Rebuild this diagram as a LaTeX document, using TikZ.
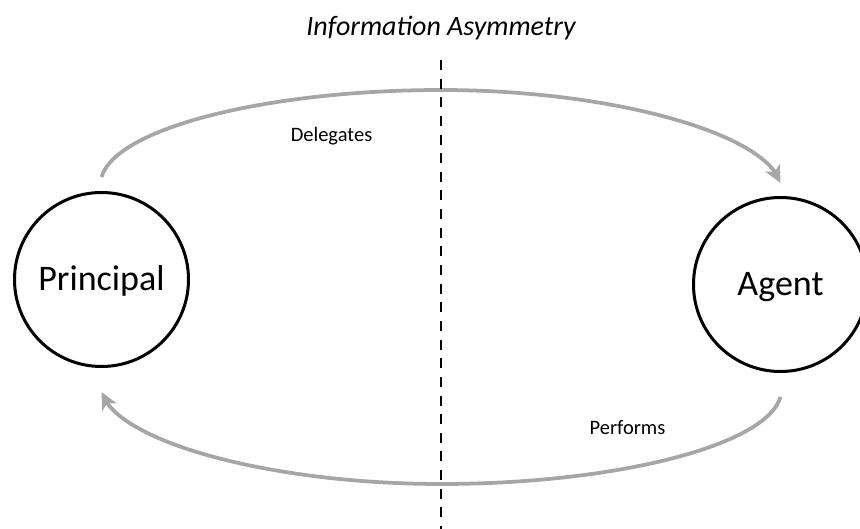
\documentclass[tikz,border=0pt]{standalone}
\usepackage{fontspec}
\setmainfont{Carlito}
\usetikzlibrary{arrows.meta,bending}
\definecolor{flowgray}{HTML}{A6A6A6}
\begin{document}
\begin{tikzpicture}[x=1pt,y=-1pt,
  party/.style={circle,draw=black,line width=3pt,minimum size=174pt,inner sep=0pt,
    font=\fontsize{36}{43}\selectfont,text height=22.75pt,text depth=0pt},
  flow/.style={draw=flowgray,line width=3.75pt,-{Stealth[length=17pt,width=16pt,inset=4.5pt]}},
  caption/.style={font=\fontsize{20.5}{24}\selectfont,anchor=base},
  heading/.style={font=\fontsize{28}{34}\selectfont\itshape,anchor=base},
  divider/.style={line width=2.6pt,dash pattern=on 10pt off 8.64pt}]
\useasboundingbox (0,0) rectangle (860,529);

% the two parties
\node[party] (principal) at (101.5,279.5) {Principal};
\node[party] (agent) at (780.5,284.5) {Agent};

% heading
\node[heading] (title) at (441,36) {Information Asymmetry};

% end points and peaks of the two flows
\coordinate (dStart) at ([yshift=14pt]principal.north);
\coordinate (dEnd) at ([yshift=13pt]agent.north);
\coordinate (pStart) at ([yshift=-24pt]agent.south);
\coordinate (pEnd) at ([yshift=-24pt]principal.south);
\coordinate (topPeak) at (441,90);
\coordinate (bottomPeak) at (441,484);

% delegation: principal -> agent
\draw[flow] (dStart) .. controls +(15,-50) and +(-170,0) .. (topPeak)
  .. controls +(170,0) and +(-15,-50) .. (dEnd);
% performance: agent -> principal
\draw[flow] (pStart) .. controls +(-15,50) and +(170,0) .. (bottomPeak)
  .. controls +(-170,0) and +(15,50) .. (pEnd);

\node[caption] (delegLabel) at (331.5,141.5) {Delegates};
\node[caption] (perfLabel) at (627.5,435) {Performs};

% dividing line
\coordinate (divTop) at (441,60);
\coordinate (divBottom) at (441,529);
\draw[divider] (divTop) -- (divBottom);
\end{tikzpicture}
\end{document}
